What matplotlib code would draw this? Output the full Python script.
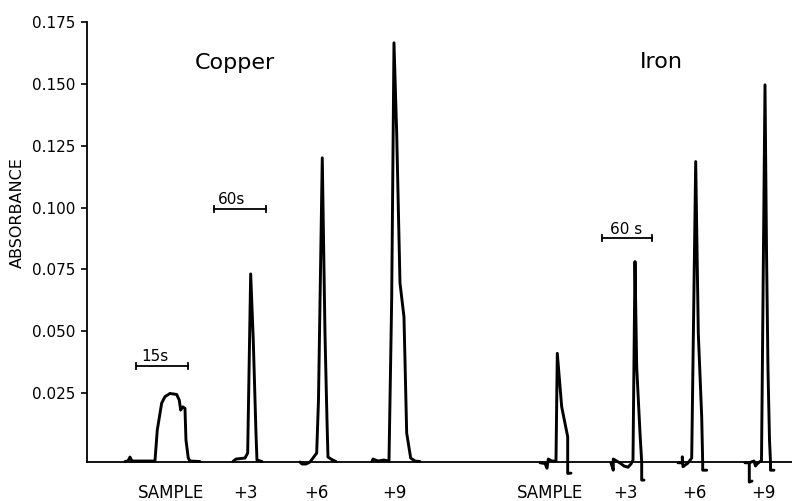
import matplotlib
matplotlib.use("Agg")
import matplotlib.pyplot as plt
import numpy as np

# chart-recorder traces: position along the chart (arbitrary units) and absorbance
BASE = -0.0027

cu_sample_x = [38, 41, 43, 45, 68, 70.3, 74.7, 78, 83, 89.7, 92.3, 93.7, 95.7, 98, 99, 101.3, 103, 113]
cu_sample_a = [-0.0026, -0.0024, -0.0008, -0.0024, -0.0024, 0.0101, 0.0210, 0.0236, 0.0249, 0.0245,
               0.0222, 0.0182, 0.0195, 0.0189, 0.0061, -0.0012, -0.0024, -0.0026]

cu_add3_x = [146, 149, 158, 160.7, 163.7, 166.3, 169, 170, 175]
cu_add3_a = [-0.0026, -0.0016, -0.0012, 0.0008, 0.0732, 0.0465, 0.0089, -0.0020, -0.0026]

cu_add6_x = [213, 215, 219, 223, 229.7, 231.5, 235.3, 238, 240, 241, 245.7, 249]
cu_add6_a = [-0.0028, -0.0036, -0.0036, -0.0028, 0.0008, 0.0222, 0.1201, 0.0493, 0.0142,
             -0.0008, -0.0020, -0.0026]

cu_add9_x = [285, 286, 291, 297, 302, 304.7, 307, 309.7, 313, 317, 319.7, 323.7, 328, 333]
cu_add9_a = [-0.0026, -0.0016, -0.0024, -0.0020, -0.0024, 0.0627, 0.1666, 0.1302, 0.0696,
             0.0558, 0.0089, -0.0012, -0.0024, -0.0026]

fe_sample_x = [453, 458, 460, 461.3, 464.7, 469, 470.3, 474.7, 480.7, 480.7, 484]
fe_sample_a = [-0.0031, -0.0034, -0.0053, -0.0016, -0.0024, -0.0024, 0.0411, 0.0195, 0.0074,
               -0.0074, -0.0073]

fe_add3_x = [524, 526.3, 526.3, 533, 537, 541, 544, 546, 548, 549.7, 553, 554.7, 554.7, 557]
fe_add3_a = [-0.0031, -0.0061, -0.0016, -0.0032, -0.0044, -0.0049, -0.0036, -0.0020, 0.0782,
             0.0357, 0.0089, -0.0028, -0.0101, -0.0101]

fe_add6_x = [591, 595.3, 595.3, 596, 601, 604.7, 608.7, 611.3, 614.7, 615.7, 615.7, 619.7]
fe_add6_a = [-0.0031, -0.0031, -0.0007, -0.0047, -0.0032, -0.0012, 0.1186, 0.0493, 0.0155,
             -0.0032, -0.0061, -0.0061]

fe_add9_x = [658, 662.3, 662.3, 665, np.nan, 662.3, 667, 668.5, 670, 673, 674.5, 678, 679.5,
             681, 682.5, 683.5, 683.5, 687]
fe_add9_a = [-0.0031, -0.0031, -0.0109, -0.0105, np.nan, -0.0031, -0.0024, -0.0044, -0.0036,
             -0.0026, -0.0024, 0.1496, 0.0829, 0.0344, 0.0061, -0.0028, -0.0061, -0.0061]

traces = [
    (cu_sample_x, cu_sample_a), (cu_add3_x, cu_add3_a), (cu_add6_x, cu_add6_a), (cu_add9_x, cu_add9_a),
    (fe_sample_x, fe_sample_a), (fe_add3_x, fe_add3_a), (fe_add6_x, fe_add6_a), (fe_add9_x, fe_add9_a),
]

peak_labels = ["SAMPLE", "+3", "+6", "+9", "SAMPLE", "+3", "+6", "+9"]
peak_label_x = [84, 159, 229, 307, 463, 539, 607, 676]

# time scale bars: (start, end, height, text)
scale_bars = [(49, 101, 0.0360, "15s"), (127, 179, 0.0995, "60s"), (515, 565, 0.0877, "60 s")]

yticks = [0.025, 0.050, 0.075, 0.100, 0.125, 0.150, 0.175]

fig = plt.figure(figsize=(7.92, 5.01), dpi=100)
ax = fig.add_axes([0.1098, 0.0299, 0.8902, 0.9262])

for x, a in traces:
    ax.plot(x, a, color="black", lw=2.1, solid_joinstyle="round", solid_capstyle="round")

cap = 0.0013
for x0, x1, h, txt in scale_bars:
    ax.plot([x0, x1], [h, h], color="black", lw=1.3)
    ax.plot([x0, x0], [h - cap, h + cap], color="black", lw=1.3)
    ax.plot([x1, x1], [h - cap, h + cap], color="black", lw=1.3)
ax.text(68, 0.0400, "15s", fontsize=11, ha="center", va="center")
ax.text(131, 0.1031, "60s", fontsize=11, ha="left", va="center")
ax.text(539, 0.0910, "60 s", fontsize=11, ha="center", va="center")

ax.text(148, 0.1585, "Copper", fontsize=16, ha="center", va="center")
ax.text(574, 0.1589, "Iron", fontsize=16, ha="center", va="center")

for lx, lab in zip(peak_label_x, peak_labels):
    ax.text(lx, -0.0152, lab, fontsize=12, ha="center", va="center", clip_on=False)

ax.set_xlim(0, 705)
ax.set_ylim(-0.0125, 0.175)

ax.spines["top"].set_visible(False)
ax.spines["right"].set_visible(False)
ax.spines["bottom"].set_position(("data", BASE))
ax.spines["left"].set_bounds(BASE, 0.175)
for s in ("left", "bottom"):
    ax.spines[s].set_linewidth(1.3)

ax.set_xticks([])
ax.set_yticks(yticks)
ax.set_yticklabels([f"{t:.3f}" for t in yticks])
ax.tick_params(axis="y", direction="out", length=4, width=1.2, pad=4, labelsize=11)
ax.set_ylabel("ABSORBANCE", fontsize=11.5)
ax.yaxis.set_label_coords(-0.088, 0.59)

fig.savefig("out.png", dpi=100)
